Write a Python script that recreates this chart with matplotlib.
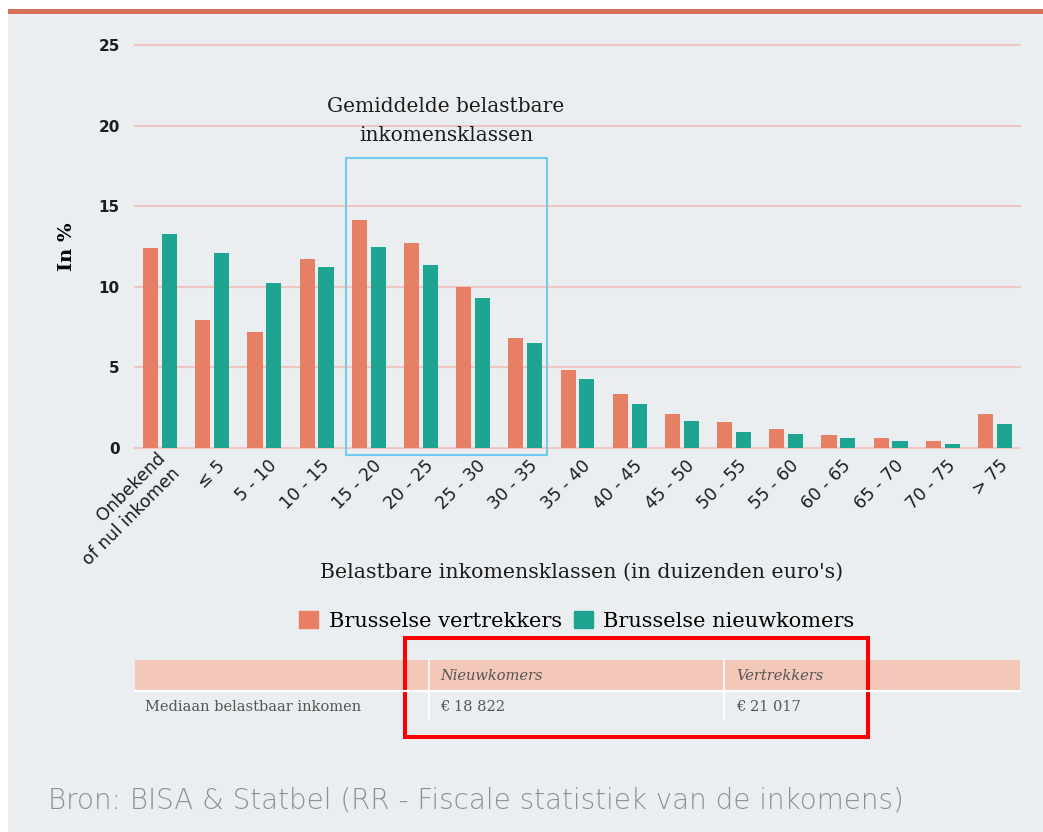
import numpy as np
import matplotlib
matplotlib.use('Agg')
import matplotlib.pyplot as plt
from matplotlib.patches import Rectangle, Patch
from matplotlib.transforms import ScaledTranslation

# data (in %)
categories = ['Onbekend\nof nul inkomen', '≤ 5', '5 - 10', '10 - 15', '15 - 20', '20 - 25',
              '25 - 30', '30 - 35', '35 - 40', '40 - 45', '45 - 50', '50 - 55',
              '55 - 60', '60 - 65', '65 - 70', '70 - 75', '> 75']
vertrekkers = [12.4, 7.95, 7.2, 11.75, 14.15, 12.7, 10.0, 6.85, 4.85, 3.35,
               2.1, 1.6, 1.2, 0.8, 0.65, 0.45, 2.1]
nieuwkomers = [13.3, 12.1, 10.25, 11.25, 12.5, 11.35, 9.3, 6.5, 4.25, 2.75,
               1.7, 1.0, 0.85, 0.65, 0.45, 0.25, 1.5]
yticks = [0, 5, 10, 15, 20, 25]
table_cols = ['Nieuwkomers', 'Vertrekkers']
table_vals = ['€ 18 822', '€ 21 017']

ORANGE = '#e67f63'
GREEN = '#1ea591'
BG = '#ebeef0'
SERIF = 'DejaVu Serif'

W, H = 1043, 832
fig = plt.figure(figsize=(W / 100, H / 100), dpi=100, facecolor=BG)

def fx(px):
    return px / W

def fy(py):
    return 1 - py / H

# white margin + red top band
fig.patches.append(Rectangle((0, fy(9)), 1, 9 / H, transform=fig.transFigure, fc='white', ec='none'))
fig.patches.append(Rectangle((0, 0), fx(8), 1, transform=fig.transFigure, fc='white', ec='none'))
fig.patches.append(Rectangle((fx(8), fy(14)), 1, 5 / H, transform=fig.transFigure, fc='#d86f58', ec='none'))

ax = fig.add_axes([fx(135), fy(448), fx(1020) - fx(135), (448 - 45) / H])
ax.set_facecolor(BG)
x = np.arange(len(categories))
bw = 0.29
ax.bar(x - 0.18, vertrekkers, bw, color=ORANGE, zorder=3)
ax.bar(x + 0.18, nieuwkomers, bw, color=GREEN, zorder=3)

ax.set_xlim(-0.48, len(categories) - 0.52)
ax.set_ylim(0, 25)
ax.set_yticks(yticks)
for t in yticks:
    ax.axhline(t, color='#f0c6c2', lw=1.5, zorder=1, clip_on=False)
for s in ax.spines.values():
    s.set_visible(False)
ax.tick_params(axis='y', length=0, pad=11, labelsize=11, labelcolor='#1c1c1c')
for lab in ax.get_yticklabels():
    lab.set_fontweight('bold')
ax.tick_params(axis='x', length=0, pad=8)
ax.set_xticks(x)
ax.set_xticklabels(categories, rotation=45, ha='right', va='center', rotation_mode='anchor',
                   fontsize=12.5, color='#1c1c1c')
offset = ScaledTranslation(10 / 100, -4 / 100, fig.dpi_scale_trans)
for lab in ax.get_xticklabels():
    lab.set_transform(lab.get_transform() + offset)
ax.set_ylabel('In %', family=SERIF, fontsize=14, fontweight='bold', labelpad=16)

# highlight box
ax.add_patch(Rectangle((3.56, -0.43), 3.85, 18.43, fill=False, ec='#72cbef', lw=1.5,
                       clip_on=False, zorder=4))
ax.text(5.48, 20.3, 'Gemiddelde belastbare\ninkomensklassen', ha='center', va='center',
        family=SERIF, fontsize=14.5, color='#1c1c1c', linespacing=1.65)

fig.text(fx(582), fy(572), "Belastbare inkomensklassen (in duizenden euro's)",
         ha='center', va='center', family=SERIF, fontsize=14.8, color='#1c1c1c')

handles = [Patch(color=ORANGE), Patch(color=GREEN)]
fig.legend(handles, ['Brusselse vertrekkers', 'Brusselse nieuwkomers'], loc='center',
           bbox_to_anchor=(fx(577), fy(621)), ncol=2, frameon=False, handlelength=0.9,
           handleheight=0.9, handletextpad=0.5, columnspacing=0.6,
           prop={'family': SERIF, 'size': 15})

# median table
fig.patches.append(Rectangle((fx(135), fy(690)), fx(1020) - fx(135), 30 / H,
                             transform=fig.transFigure, fc='#f4c8b9', ec='none'))
fig.lines.append(plt.Line2D([fx(135), fx(1020)], [fy(691), fy(691)], transform=fig.transFigure,
                            color='white', lw=1.5))
for sx in (429, 724):
    fig.lines.append(plt.Line2D([fx(sx), fx(sx)], [fy(660), fy(720)], transform=fig.transFigure,
                                color='white', lw=1.2))
fig.text(fx(145), fy(707), 'Mediaan belastbaar inkomen', ha='left', va='center',
         family=SERIF, fontsize=10.5, color='#555555')
for cx, col, val in zip((440, 736), table_cols, table_vals):
    fig.text(fx(cx), fy(676), col, ha='left', va='center', family=SERIF, fontsize=10.5,
             style='italic', color='#555555')
    fig.text(fx(cx), fy(707), val, ha='left', va='center', family=SERIF, fontsize=10.5,
             color='#555555')
fig.patches.append(Rectangle((fx(405), fy(737)), fx(868) - fx(405), 99 / H,
                             transform=fig.transFigure, fill=False, ec='#ff0000', lw=2.9))

fig.text(fx(48), fy(800), 'Bron: BISA & Statbel (RR - Fiscale statistiek van de inkomens)',
         ha='left', va='center', family='DejaVu Sans', fontsize=20, fontweight='light',
         color='#8f8f8f')

fig.savefig('out.png', dpi=100, facecolor=BG)
